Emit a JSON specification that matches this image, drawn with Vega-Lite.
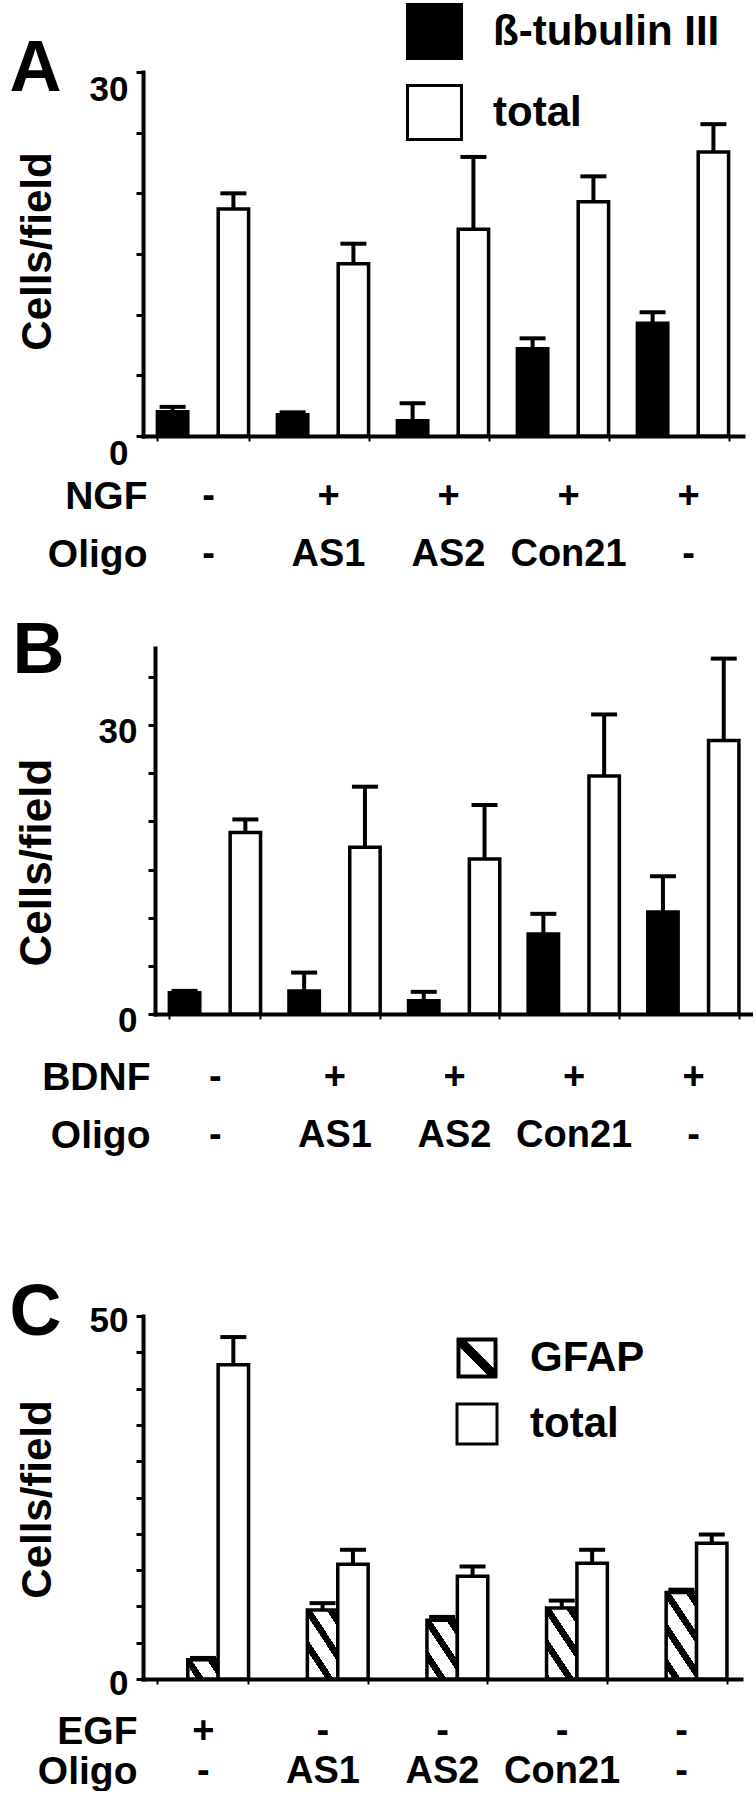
{
  "$schema": "https://vega.github.io/schema/vega-lite/v6.json",
  "background": "white",
  "padding": {"left": 9, "top": 3, "right": 0, "bottom": 0},
  "spacing": 40,
  "config": {
    "font": "Liberation Sans",
    "view": {"stroke": null},
    "axis": {"domainColor": "black", "domainWidth": 4, "domainCap": "square", "tickColor": "black", "tickWidth": 3, "labelColor": "black", "titleColor": "black", "labelFontWeight": "bold", "titleFontWeight": "bold", "grid": false, "labelFont": "Liberation Sans", "titleFont": "Liberation Sans", "labelOverlap": false, "labelLimit": 400},
    "legend": {"labelFont": "Liberation Sans", "labelFontWeight": "bold", "labelColor": "black", "labelLimit": 500, "padding": 0}
  },
  "datasets": {
    "A": [
      {"group": "-|-", "type": "ß-tubulin III", "value": 2.0, "upper": 2.4},
      {"group": "-|-", "type": "total", "value": 18.7, "upper": 20.0},
      {"group": "+|AS1", "type": "ß-tubulin III", "value": 1.75, "upper": 1.95},
      {"group": "+|AS1", "type": "total", "value": 14.2, "upper": 15.85},
      {"group": "+|AS2", "type": "ß-tubulin III", "value": 1.26, "upper": 2.7},
      {"group": "+|AS2", "type": "total", "value": 17.05, "upper": 23.0},
      {"group": "+|Con21", "type": "ß-tubulin III", "value": 7.2, "upper": 8.05},
      {"group": "+|Con21", "type": "total", "value": 19.3, "upper": 21.4},
      {"group": "+|-", "type": "ß-tubulin III", "value": 9.3, "upper": 10.2},
      {"group": "+|-", "type": "total", "value": 23.4, "upper": 25.7}
    ],
    "B": [
      {"group": "-|-", "type": "ß-tubulin III", "value": 2.2, "upper": 2.4},
      {"group": "-|-", "type": "total", "value": 18.85, "upper": 20.2},
      {"group": "+|AS1", "type": "ß-tubulin III", "value": 2.4, "upper": 4.3},
      {"group": "+|AS1", "type": "total", "value": 17.3, "upper": 23.6},
      {"group": "+|AS2", "type": "ß-tubulin III", "value": 1.37, "upper": 2.3},
      {"group": "+|AS2", "type": "total", "value": 16.1, "upper": 21.7},
      {"group": "+|Con21", "type": "ß-tubulin III", "value": 8.3, "upper": 10.4},
      {"group": "+|Con21", "type": "total", "value": 24.7, "upper": 31.1},
      {"group": "+|-", "type": "ß-tubulin III", "value": 10.6, "upper": 14.3},
      {"group": "+|-", "type": "total", "value": 28.4, "upper": 36.9}
    ],
    "C": [
      {"group": "+|-", "type": "GFAP", "value": 2.64, "upper": 2.9},
      {"group": "+|-", "type": "total", "value": 43.3, "upper": 47.1},
      {"group": "-|AS1", "type": "GFAP", "value": 9.5, "upper": 10.45},
      {"group": "-|AS1", "type": "total", "value": 15.8, "upper": 17.8},
      {"group": "-|AS2", "type": "GFAP", "value": 8.1, "upper": 8.55},
      {"group": "-|AS2", "type": "total", "value": 14.15, "upper": 15.5},
      {"group": "-|Con21", "type": "GFAP", "value": 9.77, "upper": 10.8},
      {"group": "-|Con21", "type": "total", "value": 15.95, "upper": 17.8},
      {"group": "-|-", "type": "GFAP", "value": 11.9, "upper": 12.3},
      {"group": "-|-", "type": "total", "value": 18.7, "upper": 19.9}
    ]
  },
  "resolve": {"scale": {"fill": "independent"}},
  "vconcat": [
    {
      "width": 600,
      "height": 364,
      "data": {"name": "A"},
      "encoding": {
        "x": {"field": "group", "type": "nominal", "sort": null,
          "scale": {"paddingInner": 0.24, "paddingOuter": 0.12},
          "axis": {"title": ["NGF", "Oligo"], "titleX": 4, "titleY": 41, "titleAlign": "right", "titleBaseline": "top", "titleFontSize": 39, "titleLineHeight": 58, "titleAngle": 0,
            "labelExpr": "split(datum.label, '|')", "labelAngle": 0, "labelFontSize": 38, "labelBaseline": "top", "labelLineHeight": 58, "labelPadding": 36, "labelOffset": 5,
            "tickBand": "extent", "tickSize": 5, "tickWidth": 2}
        },
        "xOffset": {"field": "type", "type": "nominal", "sort": ["ß-tubulin III", "total"], "scale": {"paddingInner": 0, "paddingOuter": 0}}
      },
      "resolve": {"axis": {"y": "independent"}},
      "layer": [
        {
          "mark": {"type": "bar", "stroke": "black", "strokeWidth": 3.5},
          "encoding": {
            "y": {"field": "value", "type": "quantitative", "scale": {"domain": [0, 30], "nice": false},
              "axis": {"title": "Cells/field", "titleAngle": -90, "titleX": -93, "titleY": 179, "titleAlign": "center", "titleBaseline": "alphabetic", "titleFontSize": 42,
                "values": [0, 5, 10, 15, 20, 25, 30], "labelExpr": "datum.value === 0 || datum.value === 30 ? datum.label : ''",
                "labelFontSize": 35, "labelBaseline": "top", "labelPadding": 8, "tickSize": 7}
            },
            "fill": {"field": "type", "type": "nominal",
              "scale": {"domain": ["ß-tubulin III", "total"], "range": ["black", "white"]},
              "legend": {"orient": "none", "legendX": 263, "legendY": -69, "title": null, "symbolType": "square", "symbolSize": 2916, "symbolStrokeColor": "black", "symbolStrokeWidth": 3, "symbolOpacity": 1, "labelFontSize": 42, "labelOffset": 30, "rowPadding": 14}
            }
          }
        },
        {
          "mark": {"type": "rule", "strokeWidth": 4, "color": "black"},
          "encoding": {
            "y": {"field": "value", "type": "quantitative", "scale": {"domain": [0, 30], "nice": false},
              "axis": {"orient": "left", "title": "A", "titleAngle": 0, "titleX": -134, "titleY": 18, "titleAlign": "left", "titleBaseline": "alphabetic", "titleFontSize": 72, "domain": false, "ticks": false, "labels": false}
            },
            "y2": {"field": "upper"}
          }
        },
        {
          "mark": {"type": "tick", "thickness": 4, "size": 26, "color": "black", "opacity": 1},
          "encoding": {
            "y": {"field": "upper", "type": "quantitative", "scale": {"domain": [0, 30], "nice": false}, "axis": null}
          }
        }
      ]
    },
    {
      "width": 610,
      "height": 366,
      "data": {"name": "B"},
      "encoding": {
        "x": {"field": "group", "type": "nominal", "sort": null,
          "scale": {"paddingInner": 0.24, "paddingOuter": 0.12, "range": [12, 610]},
          "axis": {"title": ["BDNF", "Oligo"], "titleX": 7, "titleY": 44, "titleAlign": "right", "titleBaseline": "top", "titleFontSize": 39, "titleLineHeight": 58, "titleAngle": 0,
            "labelExpr": "split(datum.label, '|')", "labelAngle": 0, "labelFontSize": 38, "labelBaseline": "top", "labelLineHeight": 58, "labelPadding": 39, "labelOffset": 0,
            "tickBand": "extent", "tickSize": 5, "tickWidth": 2}
        },
        "xOffset": {"field": "type", "type": "nominal", "sort": ["ß-tubulin III", "total"], "scale": {"paddingInner": 0, "paddingOuter": 0}}
      },
      "resolve": {"axis": {"y": "independent"}},
      "layer": [
        {
          "mark": {"type": "bar", "stroke": "black", "strokeWidth": 3.5},
          "encoding": {
            "y": {"field": "value", "type": "quantitative", "scale": {"domain": [0, 38], "nice": false},
              "axis": {"offset": -12, "title": "Cells/field", "titleAngle": -90, "titleX": -105, "titleY": 214, "titleAlign": "center", "titleBaseline": "alphabetic", "titleFontSize": 44,
                "values": [0, 5, 10, 15, 20, 25, 30, 35], "labelExpr": "datum.value === 0 || datum.value === 30 ? datum.label : ''",
                "labelFontSize": 35, "labelBaseline": "middle", "labelOffset": 6, "labelPadding": 11, "tickSize": 7}
            },
            "fill": {"field": "type", "type": "nominal",
              "scale": {"domain": ["ß-tubulin III", "total"], "range": ["black", "white"]},
              "legend": null
            }
          }
        },
        {
          "mark": {"type": "rule", "strokeWidth": 4, "color": "black"},
          "encoding": {
            "y": {"field": "value", "type": "quantitative", "scale": {"domain": [0, 38], "nice": false},
              "axis": {"orient": "left", "title": "B", "titleAngle": 0, "titleX": -131, "titleY": 24, "titleAlign": "left", "titleBaseline": "alphabetic", "titleFontSize": 72, "domain": false, "ticks": false, "labels": false}
            },
            "y2": {"field": "upper"}
          }
        },
        {
          "mark": {"type": "tick", "thickness": 4, "size": 26, "color": "black", "opacity": 1},
          "encoding": {
            "y": {"field": "upper", "type": "quantitative", "scale": {"domain": [0, 38], "nice": false}, "axis": null}
          }
        }
      ]
    },
    {
      "width": 598,
      "height": 363,
      "data": {"name": "C"},
      "encoding": {
        "x": {"field": "group", "type": "nominal", "sort": null,
          "scale": {"paddingInner": 0.24, "paddingOuter": 0.12},
          "axis": {"title": ["EGF", "Oligo"], "titleX": -6, "titleY": 33, "titleAlign": "right", "titleBaseline": "top", "titleFontSize": 39, "titleLineHeight": 40, "titleAngle": 0,
            "labelExpr": "split(datum.label, '|')", "labelAngle": 0, "labelFontSize": 38, "labelBaseline": "top", "labelLineHeight": 40, "labelPadding": 28, "labelOffset": 0,
            "tickBand": "extent", "tickSize": 5, "tickWidth": 2}
        },
        "xOffset": {"field": "type", "type": "nominal", "sort": ["GFAP", "total"], "scale": {"paddingInner": 0, "paddingOuter": 0}}
      },
      "resolve": {"axis": {"y": "independent"}},
      "layer": [
        {
          "mark": {"type": "bar", "stroke": "black", "strokeWidth": 3.5},
          "encoding": {
            "y": {"field": "value", "type": "quantitative", "scale": {"domain": [0, 50], "nice": false},
              "axis": {"title": "Cells/field", "titleAngle": -90, "titleX": -93, "titleY": 183, "titleAlign": "center", "titleBaseline": "alphabetic", "titleFontSize": 42,
                "values": [0, 5, 10, 15, 20, 25, 30, 35, 40, 45, 50], "labelExpr": "datum.value === 0 || datum.value === 50 ? datum.label : ''",
                "labelFontSize": 35, "labelBaseline": "middle", "labelOffset": 4, "labelPadding": 8, "tickSize": 7}
            },
            "fill": {
              "condition": [
                {"test": "datum.type === 'GFAP' && datum.group === '+|-'", "value": {"gradient": "linear", "x1": 0, "y1": 1, "x2": 1.2071, "y2": 0.4962, "stops": [
                  {"offset": 0, "color": "white"}, {"offset": 0.2025, "color": "white"}, {"offset": 0.2025, "color": "black"}, {"offset": 0.3865, "color": "black"}, {"offset": 0.3865, "color": "white"},
                  {"offset": 0.7393, "color": "white"}, {"offset": 0.7393, "color": "black"}, {"offset": 0.9233, "color": "black"}, {"offset": 0.9233, "color": "white"}, {"offset": 1, "color": "white"}]}},
                {"test": "datum.type === 'GFAP' && datum.group === '-|AS1'", "value": {"gradient": "linear", "x1": 0, "y1": 1, "x2": 0.7692, "y2": -0.1538, "stops": [
                  {"offset": 0, "color": "black"}, {"offset": 0.0435, "color": "black"}, {"offset": 0.0435, "color": "white"}, {"offset": 0.2435, "color": "white"}, {"offset": 0.2435, "color": "black"},
                  {"offset": 0.3478, "color": "black"}, {"offset": 0.3478, "color": "white"}, {"offset": 0.5478, "color": "white"}, {"offset": 0.5478, "color": "black"}, {"offset": 0.6522, "color": "black"},
                  {"offset": 0.6522, "color": "white"}, {"offset": 0.8522, "color": "white"}, {"offset": 0.8522, "color": "black"}, {"offset": 0.9565, "color": "black"}, {"offset": 0.9565, "color": "white"}, {"offset": 1, "color": "white"}]}},
                {"test": "datum.type === 'GFAP' && datum.group === '-|AS2'", "value": {"gradient": "linear", "x1": 0, "y1": 1, "x2": 0.865, "y2": -0.1057, "stops": [
                  {"offset": 0, "color": "white"}, {"offset": 0.1698, "color": "white"}, {"offset": 0.1698, "color": "black"}, {"offset": 0.2844, "color": "black"}, {"offset": 0.2844, "color": "white"},
                  {"offset": 0.5038, "color": "white"}, {"offset": 0.5038, "color": "black"}, {"offset": 0.6183, "color": "black"}, {"offset": 0.6183, "color": "white"},
                  {"offset": 0.8378, "color": "white"}, {"offset": 0.8378, "color": "black"}, {"offset": 0.9523, "color": "black"}, {"offset": 0.9523, "color": "white"}, {"offset": 1, "color": "white"}]}},
                {"test": "datum.type === 'GFAP' && datum.group === '-|Con21'", "value": {"gradient": "linear", "x1": 0, "y1": 1, "x2": 0.7528, "y2": -0.1604, "stops": [
                  {"offset": 0, "color": "black"}, {"offset": 0.059, "color": "black"}, {"offset": 0.059, "color": "white"}, {"offset": 0.2558, "color": "white"}, {"offset": 0.2558, "color": "black"},
                  {"offset": 0.3584, "color": "black"}, {"offset": 0.3584, "color": "white"}, {"offset": 0.5552, "color": "white"}, {"offset": 0.5552, "color": "black"}, {"offset": 0.6578, "color": "black"},
                  {"offset": 0.6578, "color": "white"}, {"offset": 0.8546, "color": "white"}, {"offset": 0.8546, "color": "black"}, {"offset": 0.9572, "color": "black"}, {"offset": 0.9572, "color": "white"}, {"offset": 1, "color": "white"}]}},
                {"test": "datum.type === 'GFAP' && datum.group === '-|-'", "value": {"gradient": "linear", "x1": 0, "y1": 1, "x2": 0.6357, "y2": -0.194, "stops": [
                  {"offset": 0, "color": "white"}, {"offset": 0.0785, "color": "white"}, {"offset": 0.0785, "color": "black"}, {"offset": 0.1692, "color": "black"}, {"offset": 0.1692, "color": "white"},
                  {"offset": 0.3429, "color": "white"}, {"offset": 0.3429, "color": "black"}, {"offset": 0.4335, "color": "black"}, {"offset": 0.4335, "color": "white"},
                  {"offset": 0.6073, "color": "white"}, {"offset": 0.6073, "color": "black"}, {"offset": 0.6979, "color": "black"}, {"offset": 0.6979, "color": "white"},
                  {"offset": 0.8716, "color": "white"}, {"offset": 0.8716, "color": "black"}, {"offset": 0.9622, "color": "black"}, {"offset": 0.9622, "color": "white"}, {"offset": 1, "color": "white"}]}}
              ],
              "field": "type", "type": "nominal",
              "scale": {"domain": ["GFAP", "total"], "range": ["black", "white"]},
              "legend": {"orient": "none", "legendX": 313, "legendY": 21, "title": null, "symbolType": "square", "symbolSize": 1600, "symbolStrokeColor": "black", "symbolStrokeWidth": 3, "symbolOpacity": 1, "labelFontSize": 42, "labelOffset": 32, "rowPadding": 18,
                "encode": {"symbols": {"update": {
                  "shape": {"signal": "datum.value === 'GFAP' ? 'M-1,-1H1V1H-1Z M-0.85,-0.85V0.85H0.85V-0.85Z M-0.85,-0.85L-0.55,-0.85L0.85,0.55L0.85,0.85L0.55,0.85L-0.85,-0.55Z' : 'square'"},
                  "stroke": {"value": "black"},
                  "strokeWidth": {"signal": "datum.value === 'GFAP' ? 1 : 3"},
                  "opacity": {"value": 1}
                }}}
              }
            }
          }
        },
        {
          "mark": {"type": "rule", "strokeWidth": 4, "color": "black"},
          "encoding": {
            "y": {"field": "value", "type": "quantitative", "scale": {"domain": [0, 50], "nice": false},
              "axis": {"orient": "left", "title": [" ", "C"], "titleAngle": 0, "titleX": -134, "titleY": -120, "titleAlign": "left", "titleBaseline": "top", "titleLineHeight": 81, "titleFontSize": 72, "domain": false, "ticks": false, "labels": false}
            },
            "y2": {"field": "upper"}
          }
        },
        {
          "mark": {"type": "tick", "thickness": 4, "size": 26, "color": "black", "opacity": 1},
          "encoding": {
            "y": {"field": "upper", "type": "quantitative", "scale": {"domain": [0, 50], "nice": false}, "axis": null}
          }
        }
      ]
    }
  ]
}
